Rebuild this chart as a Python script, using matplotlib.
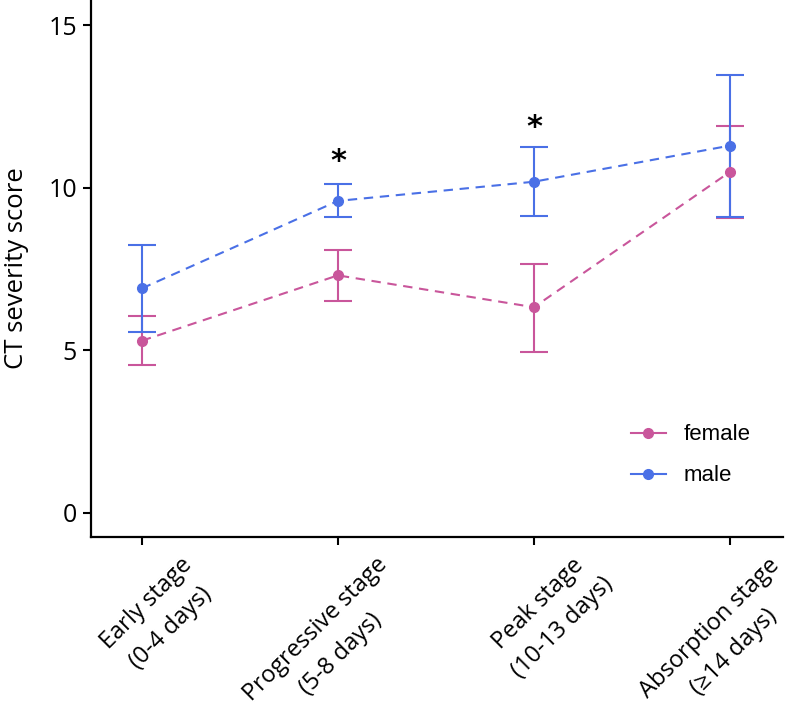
import numpy as np
import matplotlib
matplotlib.use("Agg")
import matplotlib.pyplot as plt
import matplotlib.transforms as mtransforms

# stages on the x axis
stages = ["Early stage\n(0-4 days)", "Progressive stage\n(5-8 days)",
          "Peak stage\n(10-13 days)", "Absorption stage\n(\u226514 days)"]

# female: mean, lower, upper
female_mean = [5.29, 7.30, 6.32, 10.48]
female_low = [4.54, 6.52, 4.94, 9.07]
female_high = [6.05, 8.08, 7.65, 11.90]

# male: mean, lower, upper
male_mean = [6.90, 9.59, 10.18, 11.29]
male_low = [5.57, 9.10, 9.13, 9.09]
male_high = [8.22, 10.10, 11.26, 13.47]

# significance stars
star_idx = [1, 2]
star_y = [10.8, 11.85]

pink = "#C9569B"
blue = "#4A70E6"

plt.rcParams['font.family'] = ['Open Sans', 'DejaVu Sans']

fig = plt.figure(figsize=(7.87, 7.18), dpi=100)
ax = fig.add_axes([0.1156, 0.252, 0.879, 0.748])

x = np.arange(len(stages))

def draw(mean, low, high, col, name):
    mean = np.array(mean)
    err = [mean - np.array(low), np.array(high) - mean]
    ax.errorbar(x, mean, yerr=err, fmt='none', ecolor=col, elinewidth=1.5,
                capsize=10.4, capthick=1.5, zorder=2)
    ax.plot(x, mean, ls=(0, (4.5, 3.2)), color=col, lw=1.5, zorder=3)
    ax.plot(x, mean, 'o', color=col, ms=7, zorder=4)
    # legend handle
    ax.plot([], [], '-o', color=col, lw=1.5, ms=7, label=name)

draw(female_mean, female_low, female_high, pink, "female")
draw(male_mean, male_low, male_high, blue, "male")

for i, yy in zip(star_idx, star_y):
    ax.text(x[i], yy, "*", ha='center', va='center', fontsize=22,
            fontweight='bold', family='DejaVu Sans')

ax.set_xlim(-0.26, 3.27)
ax.set_ylim(-0.75, 15.77)
ax.set_yticks([0, 5, 10, 15])
ax.set_xticks(x)
ax.set_xticklabels([])
ax.tick_params(axis='y', labelsize=18, length=6, width=1.5, pad=4)
ax.tick_params(axis='x', length=6, width=1.5)
ax.set_ylabel("CT severity score", fontsize=18.5, labelpad=14)

# slanted two-line stage labels: first line right-aligned, second centred under it
fs = 17
renderer = fig.canvas.get_renderer()
base = mtransforms.blended_transform_factory(ax.transData, ax.transAxes)
c = np.sqrt(0.5)
line_px = 1.45 * fs * fig.dpi / 72
for xi, lab in zip(x, stages):
    l1, l2 = lab.split("\n")
    tmp = fig.text(0, 0, l1, fontsize=fs)
    w1 = tmp.get_window_extent(renderer).width
    tmp.remove()
    ax1, ay1 = 38, -16  # anchor of first line, pixels from tick foot
    ax.text(xi, 0, l1, fontsize=fs, rotation=45, rotation_mode='anchor',
            ha='right', va='top', clip_on=False,
            transform=base + mtransforms.ScaledTranslation(ax1 / 100, ay1 / 100, fig.dpi_scale_trans))
    cx = ax1 - w1 / 2 * c + line_px * c
    cy = ay1 - w1 / 2 * c - line_px * c
    ax.text(xi, 0, l2, fontsize=fs, rotation=45, rotation_mode='anchor',
            ha='center', va='top', clip_on=False,
            transform=base + mtransforms.ScaledTranslation(cx / 100, cy / 100, fig.dpi_scale_trans))

for s in ['top', 'right']:
    ax.spines[s].set_visible(False)
for s in ['left', 'bottom']:
    ax.spines[s].set_linewidth(1.6)

leg = ax.legend(loc='center left', bbox_to_anchor=(0.764, 0.152), frameon=False,
                borderpad=0, handlelength=1.6, labelspacing=0.9,
                handletextpad=0.8,
                prop={'family': 'Liberation Sans', 'size': 16})

fig.savefig("out.png", dpi=100)
